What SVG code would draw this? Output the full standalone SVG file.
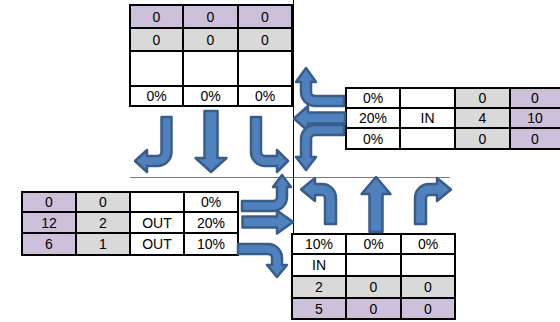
<svg xmlns="http://www.w3.org/2000/svg" width="560" height="322" viewBox="0 0 560 322">
<defs>
<style>
.c{stroke:#000;stroke-width:2}
.p{fill:#CCC0DA}
.g{fill:#D9D9D9}
.w{fill:#FFFFFF}
text{font-family:"Liberation Sans",Arial,sans-serif;font-size:14px;fill:#000;text-anchor:middle}
.ar{fill:#4F81BD;stroke:#385D8A;stroke-width:2.5;stroke-linejoin:round}
</style>
</defs>
<rect width="560" height="322" fill="#fff"/>
<line x1="130" y1="177.5" x2="450" y2="177.5" stroke="#4F81BD" stroke-width="1"/>
<line x1="293.5" y1="0" x2="293.5" y2="234" stroke="#000" stroke-width="1"/>

<g id="table-north">
<rect class="c p" x="130" y="5" width="53" height="23"/><rect class="c p" x="183" y="5" width="55" height="23"/><rect class="c p" x="238" y="5" width="54" height="23"/>
<rect class="c g" x="130" y="28" width="53" height="23"/><rect class="c g" x="183" y="28" width="55" height="23"/><rect class="c g" x="238" y="28" width="54" height="23"/>
<rect class="c w" x="130" y="51" width="53" height="35"/><rect class="c w" x="183" y="51" width="55" height="35"/><rect class="c w" x="238" y="51" width="54" height="35"/>
<rect class="c w" x="130" y="86" width="53" height="20"/><rect class="c w" x="183" y="86" width="55" height="20"/><rect class="c w" x="238" y="86" width="54" height="20"/>
<text x="156.5" y="21.5">0</text><text x="210.5" y="21.5">0</text><text x="265" y="21.5">0</text>
<text x="156.5" y="44.5">0</text><text x="210.5" y="44.5">0</text><text x="265" y="44.5">0</text>
<text x="156.5" y="101">0%</text><text x="210.5" y="101">0%</text><text x="265" y="101">0%</text>
</g>

<g id="table-east">
<rect class="c w" x="346" y="88" width="54" height="20"/><rect class="c w" x="400" y="88" width="55" height="20"/><rect class="c g" x="455" y="88" width="55" height="20"/><rect class="c p" x="510" y="88" width="52" height="20"/>
<rect class="c w" x="346" y="108" width="54" height="20"/><rect class="c w" x="400" y="108" width="55" height="20"/><rect class="c g" x="455" y="108" width="55" height="20"/><rect class="c p" x="510" y="108" width="52" height="20"/>
<rect class="c w" x="346" y="128" width="54" height="21"/><rect class="c w" x="400" y="128" width="55" height="21"/><rect class="c g" x="455" y="128" width="55" height="21"/><rect class="c p" x="510" y="128" width="52" height="21"/>
<text x="373" y="103">0%</text><text x="482.5" y="103">0</text><text x="535" y="103">0</text>
<text x="373" y="123">20%</text><text x="427.5" y="123">IN</text><text x="482.5" y="123">4</text><text x="535" y="123">10</text>
<text x="373" y="143.5">0%</text><text x="482.5" y="143.5">0</text><text x="535" y="143.5">0</text>
</g>

<g id="table-west">
<rect class="c p" x="22" y="192" width="54" height="20"/><rect class="c g" x="76" y="192" width="54" height="20"/><rect class="c w" x="130" y="192" width="54" height="20"/><rect class="c w" x="184" y="192" width="54" height="20"/>
<rect class="c p" x="22" y="212" width="54" height="21"/><rect class="c g" x="76" y="212" width="54" height="21"/><rect class="c w" x="130" y="212" width="54" height="21"/><rect class="c w" x="184" y="212" width="54" height="21"/>
<rect class="c p" x="22" y="233" width="54" height="22"/><rect class="c g" x="76" y="233" width="54" height="22"/><rect class="c w" x="130" y="233" width="54" height="22"/><rect class="c w" x="184" y="233" width="54" height="22"/>
<text x="49" y="207">0</text><text x="103" y="207">0</text><text x="211" y="207">0%</text>
<text x="49" y="227.5">12</text><text x="103" y="227.5">2</text><text x="157" y="227.5">OUT</text><text x="211" y="227.5">20%</text>
<text x="49" y="249">6</text><text x="103" y="249">1</text><text x="157" y="249">OUT</text><text x="211" y="249">10%</text>
</g>

<g id="table-south">
<rect class="c w" x="292" y="234" width="54" height="20"/><rect class="c w" x="346" y="234" width="55" height="20"/><rect class="c w" x="401" y="234" width="54" height="20"/>
<rect class="c w" x="292" y="254" width="54" height="22"/><rect class="c w" x="346" y="254" width="55" height="22"/><rect class="c w" x="401" y="254" width="54" height="22"/>
<rect class="c g" x="292" y="276" width="54" height="22"/><rect class="c g" x="346" y="276" width="55" height="22"/><rect class="c g" x="401" y="276" width="54" height="22"/>
<rect class="c p" x="292" y="298" width="54" height="21"/><rect class="c p" x="346" y="298" width="55" height="21"/><rect class="c p" x="401" y="298" width="54" height="21"/>
<text x="319" y="249">10%</text><text x="373.5" y="249">0%</text><text x="428" y="249">0%</text>
<text x="319" y="270">IN</text>
<text x="319" y="292">2</text><text x="373.5" y="292">0</text><text x="428" y="292">0</text>
<text x="319" y="313.5">5</text><text x="373.5" y="313.5">0</text><text x="428" y="313.5">0</text>
</g>

<g id="connectors">
<path class="ar" d="M161.5,117 H171.5 V152 A14,14 0 0 1 157.5,166 H147 V172 L135,161 L147,150 V156 H157.5 A4,4 0 0 0 161.5,152 Z"/>
<path class="ar" d="M204.5,111 H217.5 V158 H226.5 L211,172 L195.5,158 H204.5 Z"/>
<path class="ar" d="M251,117 H261 V152 A4,4 0 0 0 265,156 H277 V150 L288,161 L277,172 V166 H265 A14,14 0 0 1 251,152 Z"/>
<path class="ar" d="M344,96 V106 H315 A14,14 0 0 1 301,92 V82 H296 L306,68 L316,82 H311 V92 A4,4 0 0 0 315,96 Z"/>
<path class="ar" d="M345,112.5 V123.5 H308 V131 L294,118.5 L308,106 V112.5 Z"/>
<path class="ar" d="M344,125 V135 H315 A4,4 0 0 0 311,139 V157 H316 L306,170 L296,157 H301 V139 A14,14 0 0 1 315,125 Z"/>
<path class="ar" d="M242,201 H273 A4,4 0 0 0 277,197 V187 H273 L282,175 L291,187 H287 V197 A14,14 0 0 1 273,211 H242 Z"/>
<path class="ar" d="M242.5,216.5 H277 V210.5 L293,222 L277,233.5 V227.5 H242.5 Z"/>
<path class="ar" d="M238,244 H268 A14,14 0 0 1 282,258 V265 H287 L277,277 L267,265 H272 V258 A4,4 0 0 0 268,254 H238 Z"/>
<path class="ar" d="M325,224 V198 A3,3 0 0 0 322,195 H315 V201 L301,189.5 L315,178 V184 H322 A14,14 0 0 1 336,198 V224 Z"/>
<path class="ar" d="M369.5,232 V194 H361.5 L376,177 L390.5,194 H382.5 V232 Z"/>
<path class="ar" d="M415,224 V198 A14,14 0 0 1 429,184 H437 V178 L451,189.5 L437,201 V195 H429 A3,3 0 0 0 426,198 V224 Z"/>
</g>
</svg>
